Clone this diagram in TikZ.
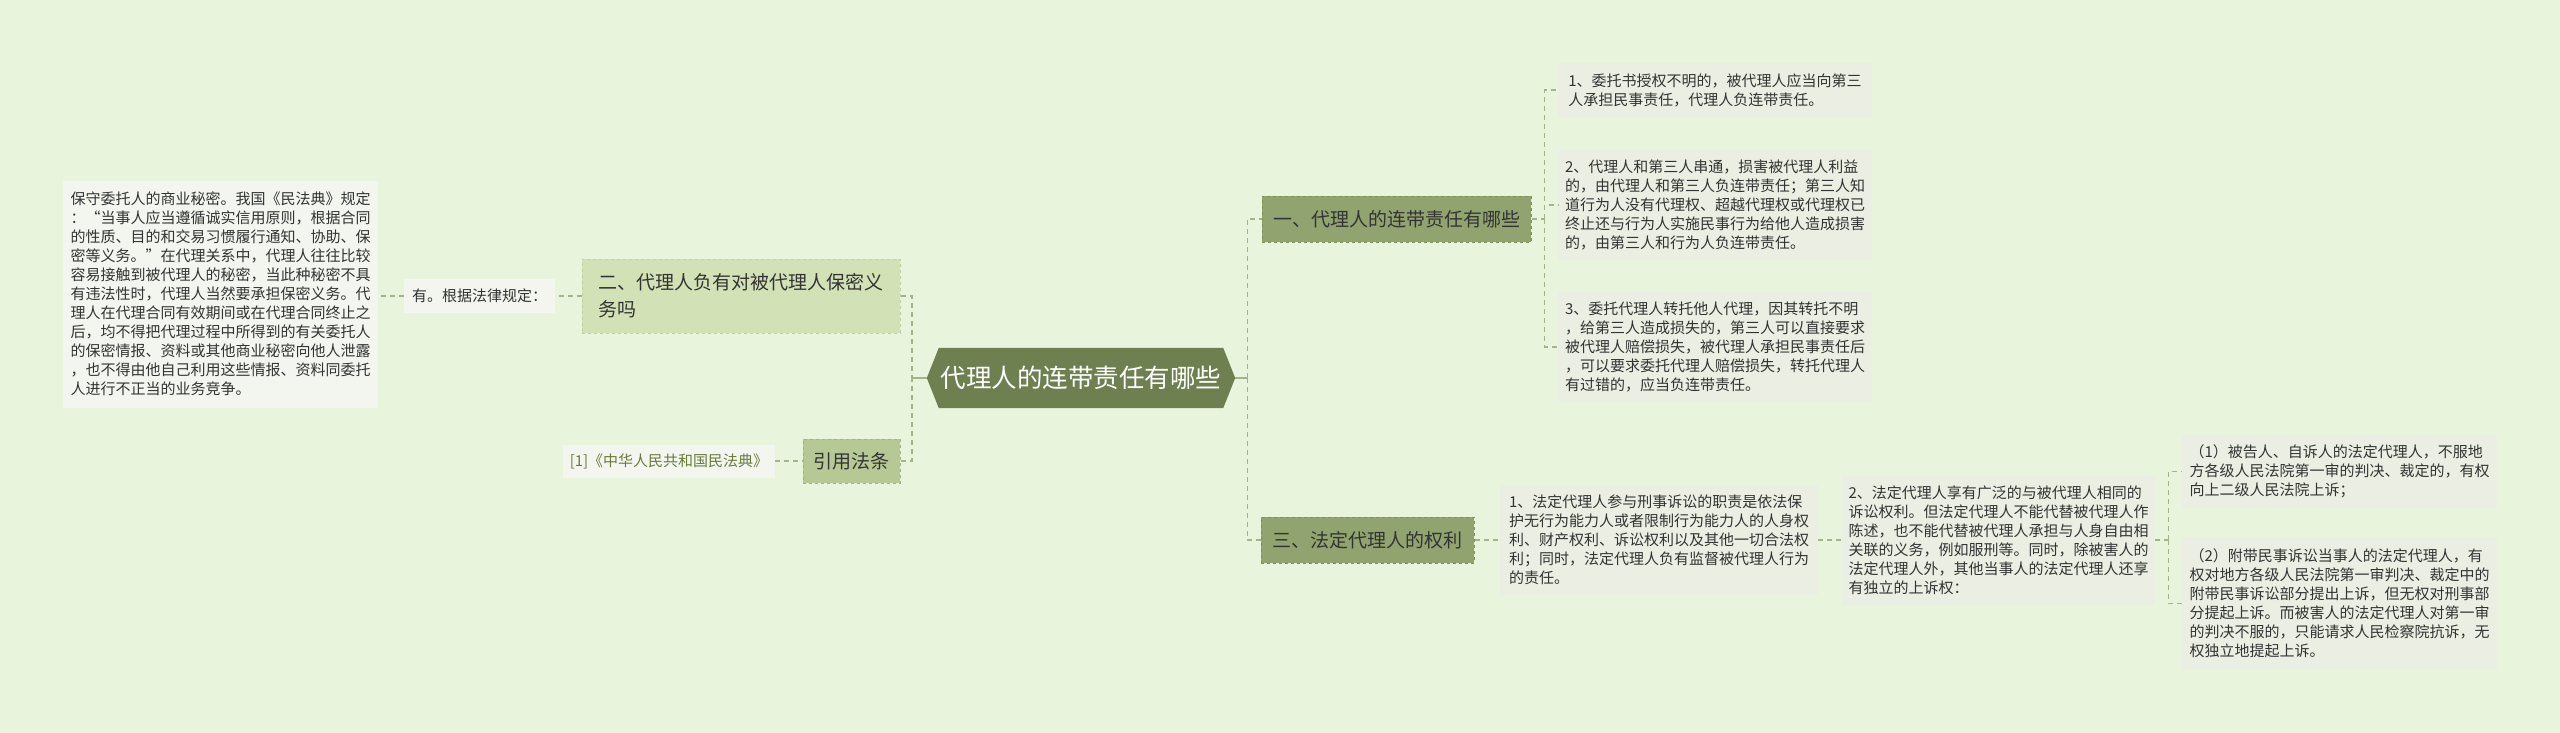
\documentclass[tikz,border=0pt]{standalone}
\usepackage{fontspec}
\setmainfont{Noto Sans CJK SC}
\usetikzlibrary{backgrounds}

\definecolor{bgcol}{HTML}{E8F4DC}
\definecolor{rootcol}{HTML}{6E8050}
\definecolor{maincol}{HTML}{91A46F}
\definecolor{mainline}{HTML}{7D915C}
\definecolor{subcol}{HTML}{D2E2B6}
\definecolor{subline}{HTML}{BFD2A0}
\definecolor{citecol}{HTML}{B6C994}
\definecolor{citeline}{HTML}{A0B67C}
\definecolor{leafcol}{HTML}{EBEEE3}
\definecolor{notecol}{HTML}{F3F6EE}
\definecolor{linkcol}{HTML}{A3B38A}
\definecolor{txtcol}{HTML}{333333}
\definecolor{refcol}{HTML}{6A7B3C}

\begin{document}
\begin{tikzpicture}[x=1pt, y=-1pt,
    box/.style={align=left, inner sep=0pt, text=txtcol},
    leaf/.style={box, fill=leafcol, font=\fontsize{15}{19}\selectfont},
    note/.style={box, fill=notecol, font=\fontsize{15}{19}\selectfont},
    topic/.style={box, fill=maincol, draw=mainline, dashed, line width=1pt, font=\fontsize{19}{27}\selectfont},
    subtopic/.style={box, fill=subcol, draw=subline, dashed, line width=1pt, font=\fontsize{19}{27}\selectfont},
    link/.style={draw=linkcol, line width=1.4pt, dash pattern=on 5pt off 4pt},
    stub/.style={draw=linkcol, line width=2pt}]

    \useasboundingbox (0,0) rectangle (2560,733);

    % Centre
    \node[box, text=white, font=\fontsize{25.5}{30}\selectfont, minimum width=308pt, minimum height=60pt] (root) at (1081,378) {代理人的连带责任有哪些};

    % Right, first topic
    \node[topic, minimum width=269pt, minimum height=46pt] (one) at (1396.5,219) {一、代理人的连带责任有哪些};
    \node[leaf, minimum width=314pt, minimum height=54pt] (a1) at (1715,90)
        {1、委托书授权不明的，被代理人应当向第三\\人承担民事责任，代理人负连带责任。};
    \node[leaf, minimum width=314pt, minimum height=110pt] (a2) at (1715,205)
        {2、代理人和第三人串通，损害被代理人利益\\的，由代理人和第三人负连带责任；第三人知\\道行为人没有代理权、超越代理权或代理权已\\终止还与行为人实施民事行为给他人造成损害\\的，由第三人和行为人负连带责任。};
    \node[leaf, minimum width=314pt, minimum height=110pt] (a3) at (1715,347)
        {3、委托代理人转托他人代理，因其转托不明\\，给第三人造成损失的，第三人可以直接要求\\被代理人赔偿损失，被代理人承担民事责任后\\，可以要求委托代理人赔偿损失，转托代理人\\有过错的，应当负连带责任。};

    % Right, third topic
    \node[topic, minimum width=213pt, minimum height=46pt] (three) at (1367.5,540) {三、法定代理人的权利};
    \node[leaf, minimum width=318pt, minimum height=110pt] (c1) at (1659,540)
        {1、法定代理人参与刑事诉讼的职责是依法保\\护无行为能力人或者限制行为能力人的人身权\\利、财产权利、诉讼权利以及其他一切合法权\\利；同时，法定代理人负有监督被代理人行为\\的责任。};
    \node[leaf, minimum width=313pt, minimum height=129pt] (c2) at (1998.5,540)
        {2、法定代理人享有广泛的与被代理人相同的\\诉讼权利。但法定代理人不能代替被代理人作\\陈述，也不能代替被代理人承担与人身自由相\\关联的义务，例如服刑等。同时，除被害人的\\法定代理人外，其他当事人的法定代理人还享\\有独立的上诉权：};
    \node[leaf, minimum width=315pt, minimum height=73pt] (d1) at (2339.5,471.5)
        {（1）被告人、自诉人的法定代理人，不服地\\方各级人民法院第一审的判决、裁定的，有权\\向上二级人民法院上诉；};
    \node[leaf, minimum width=315pt, minimum height=133pt] (d2) at (2339.5,603.5)
        {（2）附带民事诉讼当事人的法定代理人，有\\权对地方各级人民法院第一审判决、裁定中的\\附带民事诉讼部分提出上诉，但无权对刑事部\\分提起上诉。而被害人的法定代理人对第一审\\的判决不服的，只能请求人民检察院抗诉，无\\权独立地提起上诉。};

    % Left, second topic
    \node[subtopic, minimum width=318pt, minimum height=74pt] (two) at (741,296)
        {二、代理人负有对被代理人保密义\\务吗};
    \node[note, minimum width=151pt, minimum height=34pt] (yes) at (479.5,296) {有。根据法律规定：};
    \node[note, minimum width=315pt, minimum height=227pt] (law) at (220.5,294)
        {保守委托人的商业秘密。我国《民法典》规定\\：“当事人应当遵循诚实信用原则，根据合同\\的性质、目的和交易习惯履行通知、协助、保\\密等义务。”在代理关系中，代理人往往比较\\容易接触到被代理人的秘密，当此种秘密不具\\有违法性时，代理人当然要承担保密义务。代\\理人在代理合同有效期间或在代理合同终止之\\后，均不得把代理过程中所得到的有关委托人\\的保密情报、资料或其他商业秘密向他人泄露\\，也不得由他自己利用这些情报、资料同委托\\人进行不正当的业务竞争。};

    % Left, citation
    \node[box, fill=citecol, draw=citeline, dashed, line width=1pt, font=\fontsize{19}{24}\selectfont, minimum width=97pt, minimum height=44pt] (cite) at (851.5,461) {引用法条};
    \node[note, text=refcol, minimum width=212pt, minimum height=33pt] (ref) at (669,461) {[1]《中华人民共和国民法典》};

    % Background and centre shape
    \begin{scope}[on background layer]
        \fill[bgcol] (0,0) rectangle (2560,733);
        \fill[rootcol] ([xshift=12pt]root.north west) -- ([xshift=-12pt]root.north east) -- (root.east)
            -- ([xshift=-12pt]root.south east) -- ([xshift=12pt]root.south west) -- (root.west) -- cycle;
    \end{scope}

    % Edges
    \draw[stub] (root.east) -- ++(12,0) coordinate (rj);
    \draw[stub] (root.west) -- ++(-15,0) coordinate (lj);
    \draw[link] (rj) |- (one.west);
    \draw[link] (rj) |- (three.west);
    \draw[link] (two.east) -| (lj);
    \draw[link] (cite.east) -| (lj);

    \draw[link] (one.east) -- ++(13,0) coordinate (oj);
    \draw[link] (oj) |- (a1.west);
    \draw[link] (oj) |- (a2.west);
    \draw[link] (oj) |- (a3.west);

    \draw[link] (three.east) -- (c1.west);
    \draw[link] (c1.east) -- (c2.west);
    \draw[link] (c2.east) -- ++(13,0) coordinate (cj);
    \draw[link] (cj) |- (d1.west);
    \draw[link] (cj) |- (d2.west);

    \draw[link] (yes.west) -- (law.east |- yes.west);
    \draw[link] (two.west) -- (yes.east);
    \draw[link] (ref.east) -- (cite.west);
\end{tikzpicture}
\end{document}
